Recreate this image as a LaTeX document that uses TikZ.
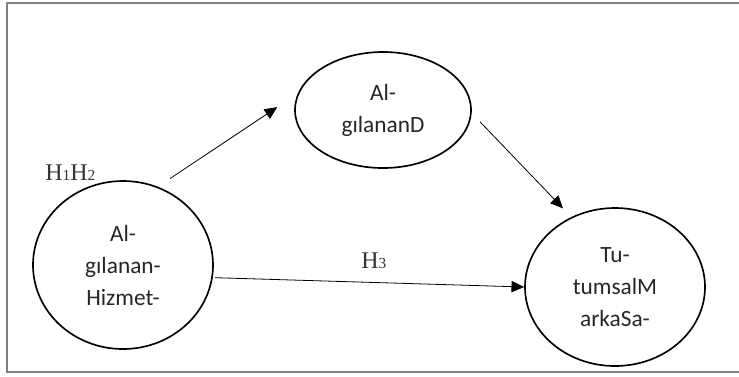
\documentclass[tikz,border=0pt]{standalone}
\usepackage{fontspec}
\setmainfont{Carlito}
\newfontfamily\labelfont{Liberation Serif}
\usetikzlibrary{arrows.meta,shapes.geometric}

\newcommand\digsz{\fontsize{11.5pt}{11.5pt}\selectfont}

\tikzset{
  construct/.style={draw, ellipse, line width=1.25pt, inner sep=0pt, align=center,
    text=black!85, font=\fontsize{17.5pt}{24pt}\selectfont},
  hlabel/.style={inner sep=0pt, text=black!80, font=\labelfont\fontsize{18pt}{18pt}\selectfont},
  path arrow/.style={line width=0.6pt, -{Triangle[length=9.5pt,width=8.5pt]}}
}

\begin{document}
\begin{tikzpicture}[x=0.75pt, y=-0.75pt]
\useasboundingbox (0,0) rectangle (739,376);
% frame
\draw[line width=1.5pt, black!50] (739,2.5) -- (7,2.5) -- (7,372) -- (739,372);

% constructs
\node[construct, minimum width=135pt, minimum height=126pt] (hizmet) at (123,265) {Al-\\gılanan-\\Hizmet-};
\node[construct, minimum width=132pt, minimum height=87pt] (deger) at (383,110) {Al-\\gılananD};
\node[construct, minimum width=135pt, minimum height=118.5pt] (marka) at (615,287) {Tu-\\tumsalM\\arkaSa-};

% hypotheses
\node[hlabel, anchor=base west] (h12) at (45,180) {H{\digsz1}H{\digsz2}};
\node[hlabel, anchor=base west] (h3) at (361,268) {H{\digsz3}};

% paths
\draw[path arrow, shorten <=11pt, shorten >=18.5pt] (hizmet.66) -- (deger.169);
\draw[path arrow, shorten <=9pt, shorten >=9pt] (deger.-2) -- (marka.122);
\draw[path arrow, shorten <=1.5pt] (hizmet.-8) -- (marka.180);
\end{tikzpicture}
\end{document}
